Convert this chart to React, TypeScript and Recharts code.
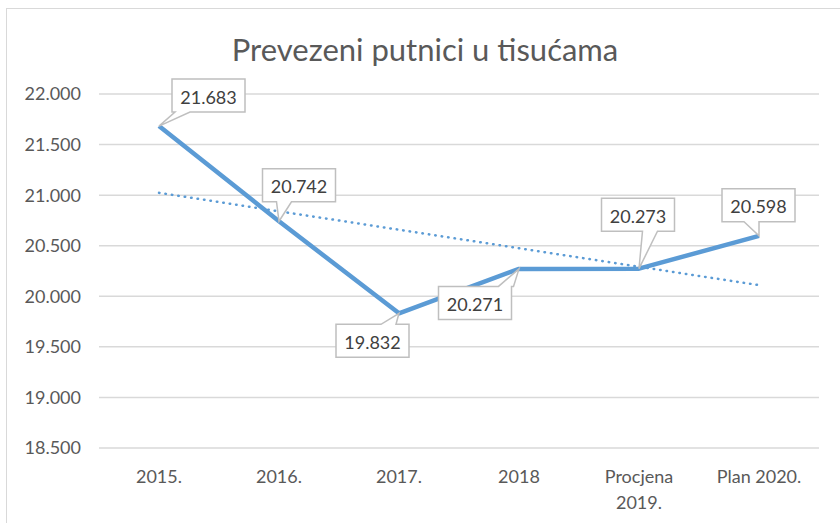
import { LineChart, Line, XAxis, YAxis, CartesianGrid, LabelList, Text } from 'recharts';

const categories = ['2015.', '2016.', '2017.', '2018', 'Procjena 2019.', 'Plan 2020.'];
const passengers = [21683, 20742, 19832, 20271, 20273, 20598];
// linear trend
const trend = [21023, 20840, 20658, 20475, 20292, 20110];
const yTicks = [18500, 19000, 19500, 20000, 20500, 21000, 21500, 22000];

// callout box centre offset from its point, and where the tail leaves the box (from box left)
const calloutOffsets = [
  [49.5, -30.5, 3],
  [20, -36, 14],
  [-26.5, 27.5, 45],
  [-44, 34, 60],
  [-1, -54, 41],
  [-0.5, -30.5, 22],
];

const data = categories.map((name, i) => ({ name, value: passengers[i], trend: trend[i] }));

const fmt = (v: number) => (v / 1000).toFixed(3);

const FONT = 'Lato, "Open Sans", sans-serif';

function Callout(props: any) {
  const { x, y, value, index } = props;
  if (x == null || y == null) return null;
  const [dx, dy, ts] = calloutOffsets[index] || [0, -30, 20];
  const w = 73;
  const h = 33;
  const cx = x + dx;
  const cy = y + dy;
  const x0 = cx - w / 2;
  const x1 = cx + w / 2;
  const y0 = cy - h / 2;
  const y1 = cy + h / 2;
  const bw = 15;
  const bs = x0 + ts;
  let d = '';
  if (y > y1) {
    // tail from bottom edge
    d = `M${x0},${y0} L${x1},${y0} L${x1},${y1} L${bs + bw},${y1} L${x},${y} L${bs},${y1} L${x0},${y1} Z`;
  } else {
    d = `M${x0},${y0} L${bs},${y0} L${x},${y} L${bs + bw},${y0} L${x1},${y0} L${x1},${y1} L${x0},${y1} Z`;
  }
  return (
    <g>
      <path d={d} fill="#ffffff" stroke="#bfbfbf" strokeWidth={1.5} />
      <text x={cx} y={cy} dy={8} textAnchor="middle" fontSize={18} fontFamily={FONT} fill="#404040">
        {fmt(value)}
      </text>
    </g>
  );
}

function XTick(props: any) {
  const { x, y, payload } = props;
  return (
    <Text
      x={x}
      y={y}
      dy={22}
      width={100}
      textAnchor="middle"
      verticalAnchor="start"
      style={{ fontSize: 18, fontFamily: FONT }}
      fontSize={18}
      fontFamily={FONT}
      fill="#595959"
      lineHeight={26}
    >
      {payload.value}
    </Text>
  );
}

export default function App() {
  return (
    <div style={{ position: 'fixed', left: 0, top: 0, width: 840, height: 523, overflow: 'hidden', background: '#fff' }}>
      <div
        style={{
          position: 'absolute',
          left: 6,
          top: 8,
          width: 900,
          height: 600,
          border: '1.5px solid #d9d9d9',
        }}
      />
      <svg width={840} height={80} style={{ position: 'absolute', left: 0, top: 0 }}>
        <text x={425} y={61} textAnchor="middle" fontFamily={FONT} fontSize={31} fill="#595959">
          Prevezeni putnici u tisućama
        </text>
      </svg>
      <LineChart
        width={840}
        height={523}
        data={data}
        margin={{ top: 94, right: 21, bottom: 15, left: 0 }}
        style={{ position: 'absolute', left: 0, top: 0 }}
      >
        <CartesianGrid vertical={false} stroke="#d9d9d9" strokeWidth={1.5} />
        <XAxis
          dataKey="name"
          axisLine={false}
          tickLine={false}
          tickSize={0}
          tickMargin={0}
          height={60}
          interval={0}
          padding={{ left: 60, right: 60 }}
          tick={<XTick />}
        />
        <YAxis
          domain={[18500, 22000]}
          ticks={yTicks}
          axisLine={false}
          tickLine={false}
          tickSize={0}
          tickMargin={18}
          width={99}
          tickFormatter={fmt}
          tick={{ fontSize: 18, fontFamily: FONT, fill: '#595959' }}
        />
        <Line
          type="linear"
          dataKey="trend"
          stroke="#5b9bd5"
          strokeWidth={2.5}
          strokeDasharray="0.5 6"
          strokeLinecap="round"
          dot={false}
          isAnimationActive={false}
        />
        <Line
          type="linear"
          dataKey="value"
          stroke="#5b9bd5"
          strokeWidth={4.5}
          strokeLinejoin="round"
          dot={false}
          isAnimationActive={false}
        >
          <LabelList dataKey="value" content={<Callout />} />
        </Line>
      </LineChart>
    </div>
  );
}
